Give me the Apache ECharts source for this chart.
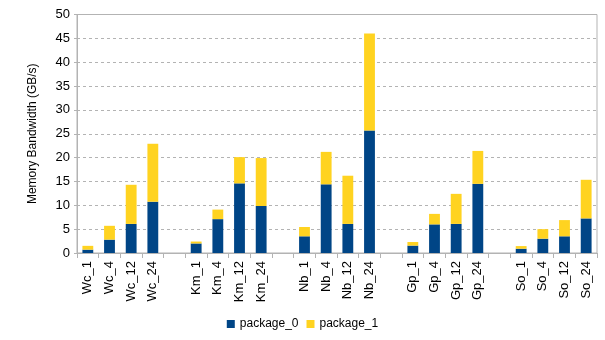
<!DOCTYPE html>
<html>
<head>
<meta charset="utf-8">
<script src="https://cdn.jsdelivr.net/npm/echarts@6/dist/echarts.min.js"></script>
<style>
  html, body { margin: 0; padding: 0; background: #fff; }
  #chart { width: 605px; height: 340px; }
</style>
</head>
<body>
<div id="chart"></div>
<script>
// categories, with an empty slot between the groups
const categories = [
  'Wc_1', 'Wc_4', 'Wc_12', 'Wc_24', '',
  'Km_1', 'Km_4', 'Km_12', 'Km_24', '',
  'Nb_1', 'Nb_4', 'Nb_12', 'Nb_24', '',
  'Gp_1', 'Gp_4', 'Gp_12', 'Gp_24', '',
  'So_1', 'So_4', 'So_12', 'So_24'
];
const package0 = [
  0.7, 2.8, 6.1, 10.75, null,
  2.0, 7.1, 14.6, 9.85, null,
  3.5, 14.4, 6.1, 25.7, null,
  1.55, 6.0, 6.1, 14.5, null,
  0.9, 3.0, 3.5, 7.25
];
const package1 = [
  0.8, 2.9, 8.2, 12.15, null,
  0.4, 2.0, 5.5, 10.05, null,
  1.95, 6.8, 10.1, 20.3, null,
  0.75, 2.2, 6.3, 6.9, null,
  0.55, 2.0, 3.4, 8.1
];
const yTicks = [0, 5, 10, 15, 20, 25, 30, 35, 40, 45, 50];

const font = 'Liberation Sans';
const myChart = echarts.init(document.getElementById('chart'));
myChart.setOption({
  animation: false,
  textStyle: { fontFamily: font },
  grid: {
    left: 77, right: 8, top: 14.5, bottom: 87,
    show: true, borderColor: '#b3b3b3', borderWidth: 1
  },
  legend: {
    bottom: 5,
    left: 'center',
    itemWidth: 8, itemHeight: 8, itemGap: 8,
    icon: 'rect',
    textStyle: { fontSize: 12, color: '#000', fontFamily: font },
    data: ['package_0', 'package_1']
  },
  xAxis: {
    type: 'category',
    data: categories,
    axisLine: { lineStyle: { color: '#b3b3b3' } },
    axisTick: { show: true, length: 5, lineStyle: { color: '#b3b3b3' } },
    axisLabel: { rotate: 90, fontSize: 13, color: '#000', margin: 8, interval: 0 }
  },
  yAxis: {
    type: 'value',
    min: yTicks[0],
    max: yTicks[yTicks.length - 1],
    interval: 5,
    name: 'Memory Bandwidth (GB/s)',
    nameLocation: 'middle',
    nameGap: 38,
    nameTextStyle: { fontSize: 12, color: '#000' },
    axisLine: { show: true, lineStyle: { color: '#b3b3b3' } },
    axisTick: { show: true, length: 3, lineStyle: { color: '#b3b3b3' } },
    axisLabel: { fontSize: 13, color: '#000', margin: 7 },
    splitLine: { lineStyle: { color: '#b3b3b3', type: [3, 3] } }
  },
  series: [
    {
      name: 'package_0', type: 'bar', stack: 'total',
      data: package0, barWidth: '50%',
      itemStyle: { color: '#004586' }
    },
    {
      name: 'package_1', type: 'bar', stack: 'total',
      data: package1, barWidth: '50%',
      itemStyle: { color: '#ffd320' }
    }
  ]
});
</script>
</body>
</html>
